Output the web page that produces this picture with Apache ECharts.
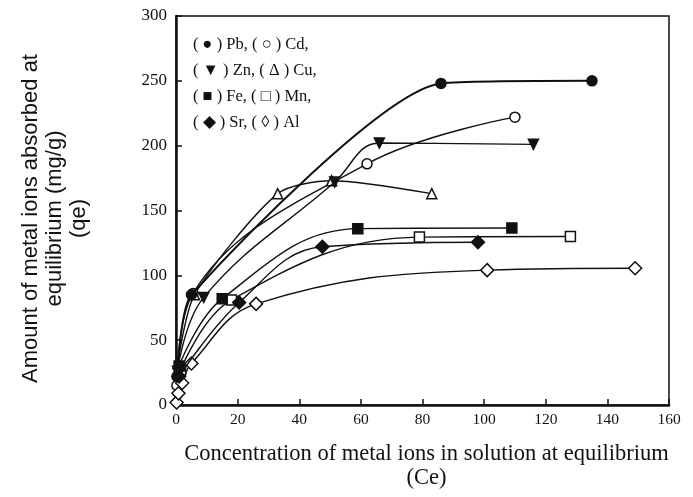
<!DOCTYPE html>
<html>
<head>
<meta charset="utf-8">
<script src="https://cdn.jsdelivr.net/npm/echarts@6/dist/echarts.min.js"></script>
<style>html,body{margin:0;padding:0;background:#fff;}#c{width:693px;height:497px;}</style>
</head>
<body>
<div id="c"></div>
<script>
// Concentration (Ce) vs amount absorbed (qe)
const pb = [[0.3, 22], [5, 85], [86, 248], [135, 250]];
const cd = [[0.3, 15], [5.5, 86], [62, 186], [110, 222]];
const zn = [[0.5, 26], [9, 83], [51.5, 172], [66, 202], [116, 201]];
const cu = [[0.6, 32], [6, 85], [33, 163], [50.5, 173], [83, 163]];
const fe = [[1, 30], [15, 82], [59, 136], [109, 136.5]];
const mn = [[1.5, 27], [18, 81], [79, 129.5], [128, 130]];
const sr = [[1, 22], [20.5, 79], [47.5, 122], [98, 125.5]];
const al = [[0.2, 2], [0.8, 9], [2, 17], [5, 32], [26, 78], [101, 104], [149, 105.5]];

const xTicks = [0, 20, 40, 60, 80, 100, 120, 140, 160];
const yTicks = [0, 50, 100, 150, 200, 250, 300];
const legendLines = ['( \u25CF ) Pb, ( \u25CB ) Cd,', '( \u25BC ) Zn, ( \u0394 ) Cu,', '( \u25A0 ) Fe, ( \u25A1 ) Mn,', '( \u25C6 ) Sr, ( \u25CA ) Al'];

const SERIF = 'Liberation Serif';
const SANS = 'Liberation Sans';

function mk(name, data, symbol, filled, rotate, lw, sm) {
  return {
    name: name, type: 'line', data: data, smooth: sm || 0.4,
    symbol: symbol, symbolSize: symbol === 'diamond' ? 13 : 10, symbolRotate: rotate || 0,
    lineStyle: { color: '#111', width: lw || 1.4 },
    itemStyle: { color: filled ? '#111' : '#fff', borderColor: '#111', borderWidth: 1.5 },
    z: filled ? 3 : 2
  };
}

const chart = echarts.init(document.getElementById('c'), null, { renderer: 'canvas' });
chart.setOption({
  backgroundColor: '#fff',
  animation: false,
  textStyle: { fontFamily: SERIF },
  title: {
    text: legendLines.join('\n'),
    left: 193, top: 32, padding: 0,
    textStyle: { fontFamily: SERIF, fontSize: 16.5, fontWeight: 'normal', color: '#111', lineHeight: 26 }
  },
  grid: { left: 176, right: 24, top: 16, bottom: 92, show: true, borderColor: '#111', borderWidth: 1.5 },
  xAxis: {
    type: 'value', min: xTicks[0], max: xTicks[xTicks.length - 1], interval: 20,
    name: 'Concentration of metal ions in solution at equilibrium\n(Ce)',
    nameLocation: 'middle', nameGap: 37,
    nameTextStyle: { fontFamily: SERIF, fontSize: 22.5, color: '#111', lineHeight: 24, padding: [0, 0, 0, 8] },
    axisLine: { show: true, lineStyle: { color: '#111', width: 2.5 } },
    axisTick: { show: true, inside: true, length: 6, lineStyle: { color: '#111', width: 1.5 } },
    axisLabel: { fontFamily: SERIF, fontSize: 15.5, color: '#111', margin: 7 },
    splitLine: { show: false }
  },
  yAxis: {
    type: 'value', min: yTicks[0], max: yTicks[yTicks.length - 1], interval: 50,
    name: 'Amount of metal ions absorbed at\nequilibrium (mg/g)\n(qe)',
    nameLocation: 'middle', nameGap: 85, nameRotate: 90,
    nameTextStyle: { fontFamily: SANS, fontSize: 22, color: '#111', lineHeight: 24, padding: [0, 16, 0, 0] },
    axisLine: { show: true, lineStyle: { color: '#111', width: 2.5 } },
    axisTick: { show: true, inside: true, length: 6, lineStyle: { color: '#111', width: 1.5 } },
    axisLabel: { fontFamily: SERIF, fontSize: 17, color: '#111', margin: 9 },
    splitLine: { show: false }
  },
  series: [
    mk('Pb', pb, 'circle', true, 0, 2, 0.2),
    mk('Cd', cd, 'circle', false),
    mk('Zn', zn, 'triangle', true, 180),
    mk('Cu', cu, 'triangle', false, 0, 1.4, 0.25),
    mk('Fe', fe, 'rect', true),
    mk('Mn', mn, 'rect', false),
    mk('Sr', sr, 'diamond', true),
    mk('Al', al, 'diamond', false)
  ]
});
</script>
</body>
</html>
